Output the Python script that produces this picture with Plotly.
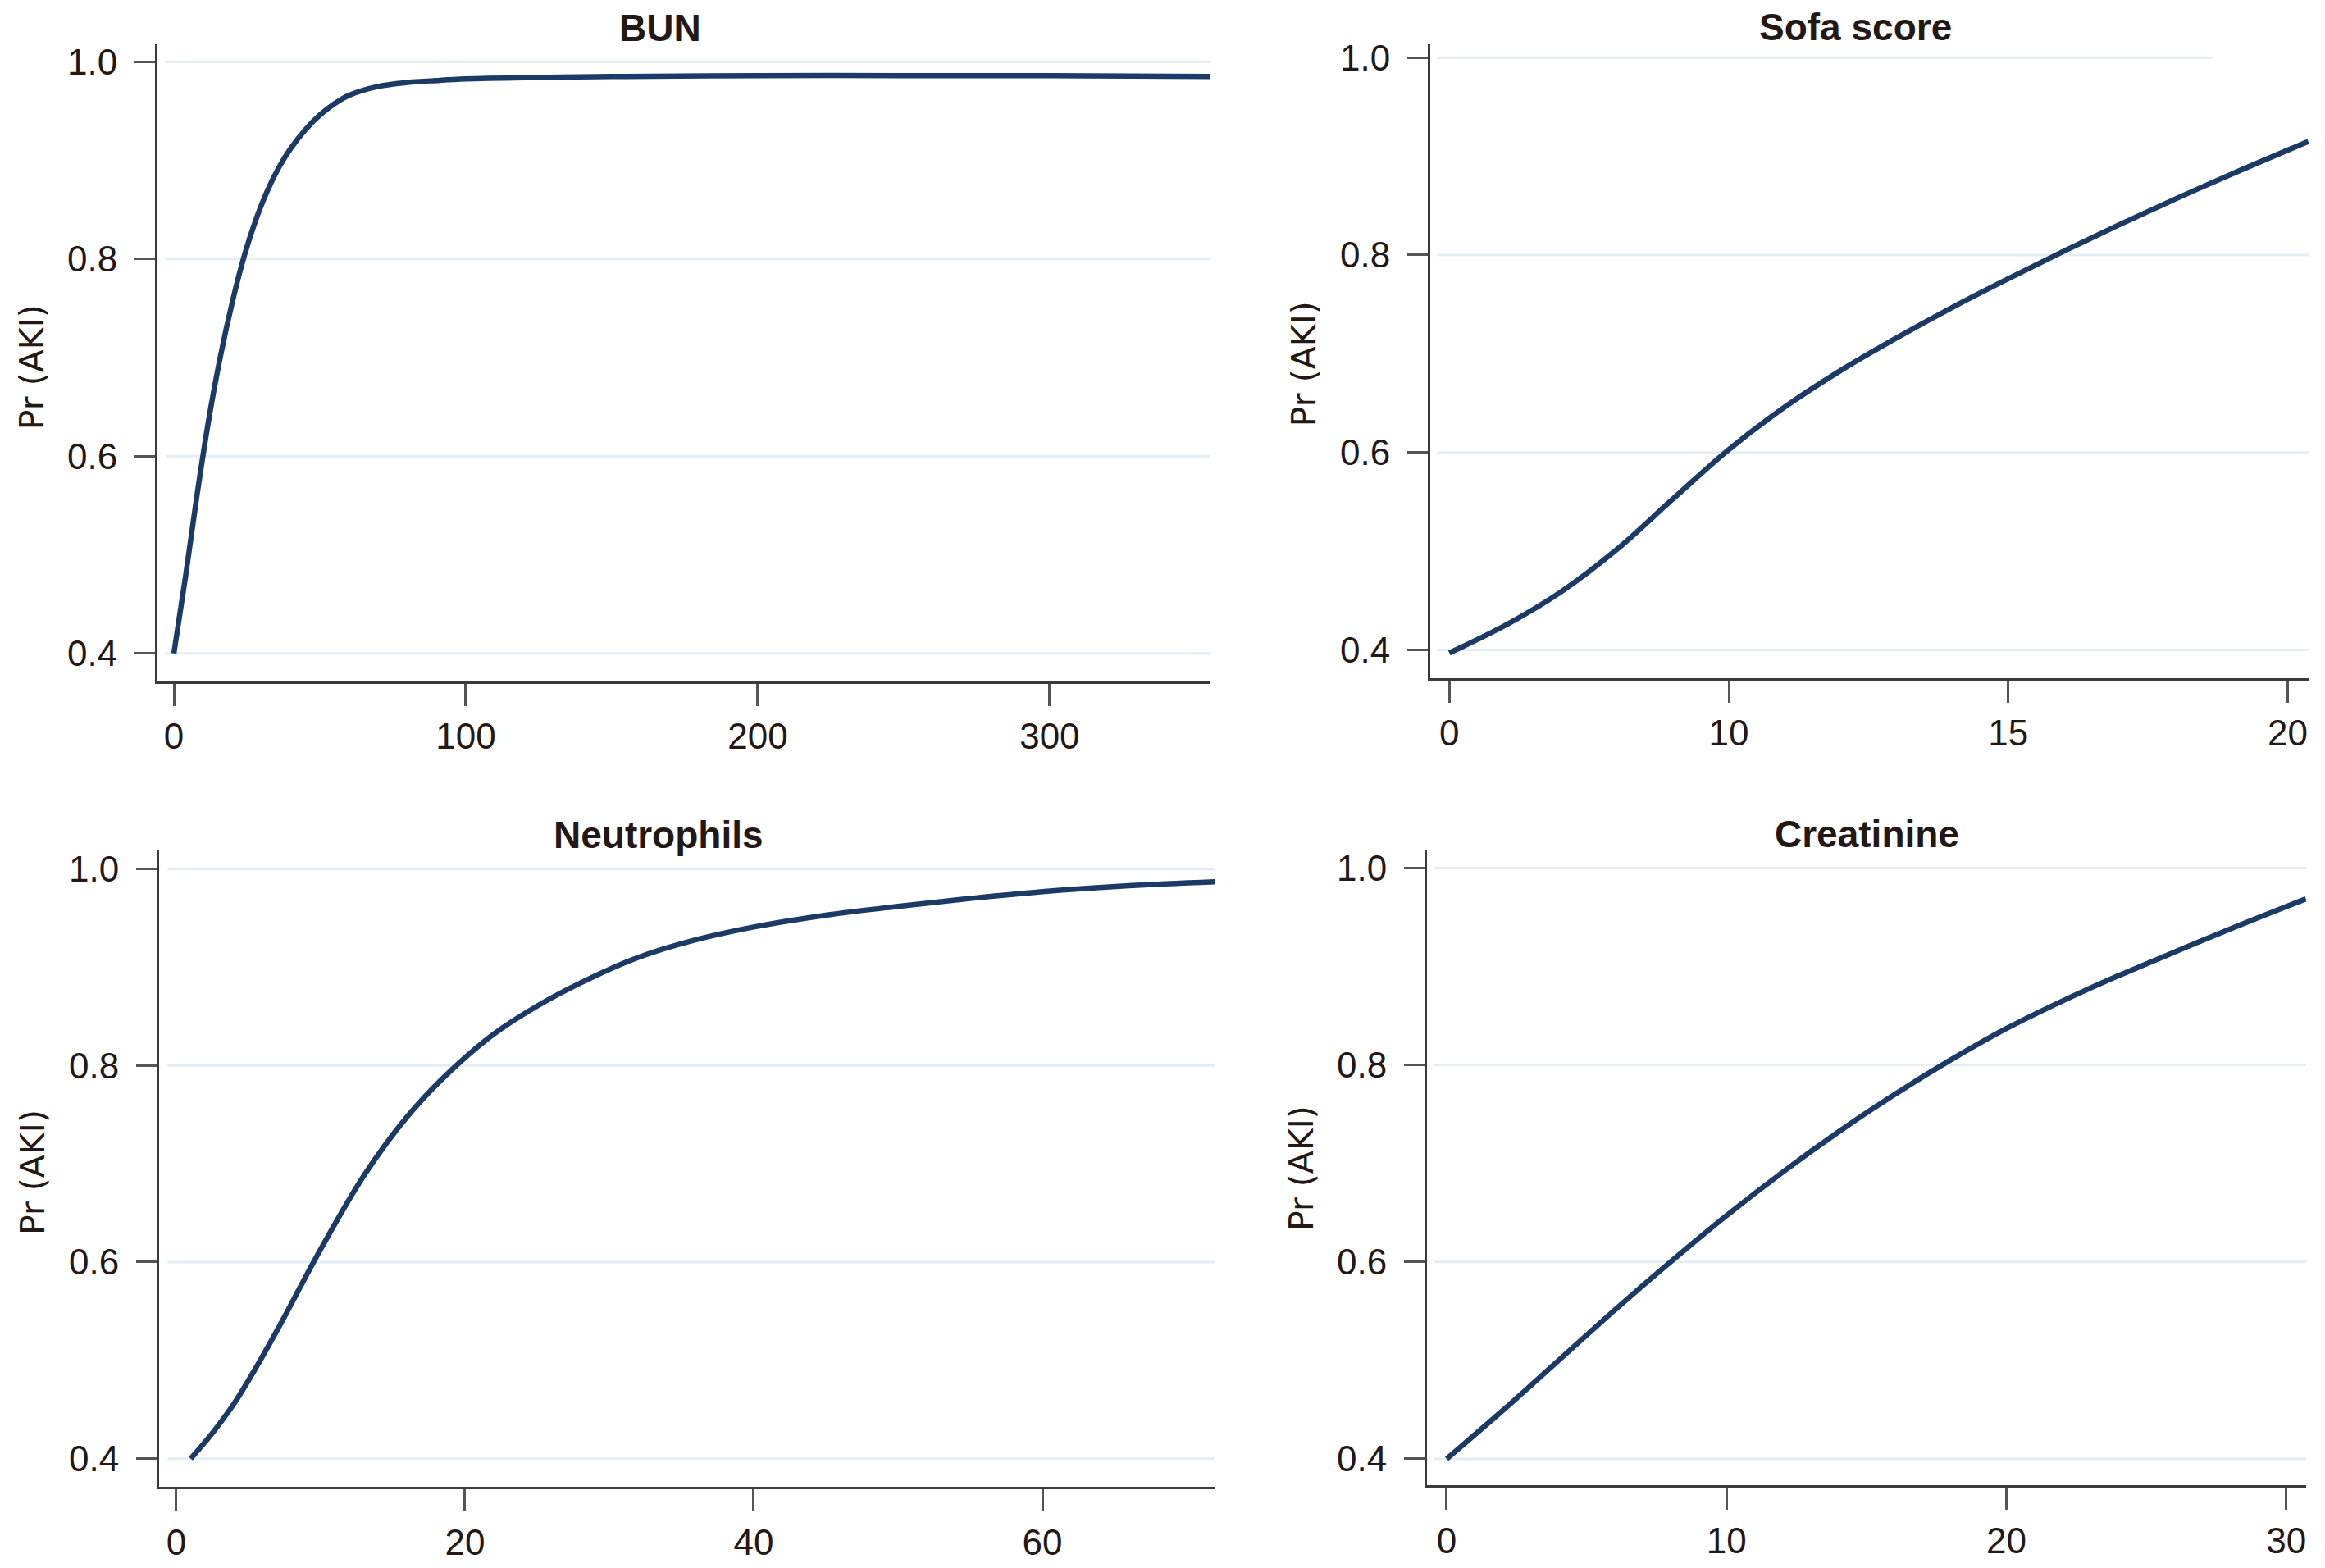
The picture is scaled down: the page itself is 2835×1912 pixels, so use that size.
import plotly.graph_objects as go

# ---------------- data ----------------
bun_x = [0, 4, 8, 12, 16, 20, 24, 28, 32, 36, 40, 45, 50, 55, 60, 70, 80, 90, 100, 125, 150, 200, 250, 300, 355]
bun_y = [0.400, 0.478, 0.562, 0.638, 0.702, 0.756, 0.802, 0.839, 0.869, 0.893, 0.912, 0.931, 0.946,
         0.9575, 0.966, 0.975, 0.979, 0.981, 0.9825, 0.984, 0.985, 0.986, 0.986, 0.986, 0.985]

sofa_x = [5, 6, 7, 8, 9, 10, 11, 12, 13, 14, 15, 16, 17, 18, 19, 20.37]
sofa_y = [0.397, 0.425, 0.459, 0.502, 0.553, 0.603, 0.646, 0.683, 0.716, 0.747, 0.776, 0.804,
          0.831, 0.857, 0.882, 0.915]

neut_x = [1, 2.5, 4, 5.5, 7, 10, 13, 16, 19, 22, 25, 28, 32, 36, 40, 45, 50, 55, 60, 66, 72]
neut_y = [0.400, 0.426, 0.456, 0.492, 0.531, 0.613, 0.688, 0.748, 0.7945, 0.832, 0.8605, 0.884,
          0.910, 0.928, 0.941, 0.953, 0.962, 0.970, 0.977, 0.983, 0.987]

creat_x = [0, 2, 4, 6, 8, 10, 12, 14, 16, 18, 20, 22, 24, 26, 28, 30.7]
creat_y = [0.400, 0.449, 0.500, 0.551, 0.600, 0.647, 0.691, 0.732, 0.770, 0.805, 0.837, 0.865,
           0.8906, 0.9146, 0.9382, 0.9687]

panel_titles = ["BUN", "Sofa score", "Neutrophils", "Creatinine"]
y_title = "Pr (AKI)"
y_tick_vals = [0.4, 0.6, 0.8, 1.0]
y_tick_text = ["0.4", "0.6", "0.8", "1.0"]
bun_tick_vals = [0, 100, 200, 300]
bun_tick_text = ["0", "100", "200", "300"]
sofa_tick_vals = [5, 10, 15, 20]
sofa_tick_text = ["0", "10", "15", "20"]
neut_tick_vals = [0, 20, 40, 60]
neut_tick_text = ["0", "20", "40", "60"]
creat_tick_vals = [0, 10, 20, 30]
creat_tick_text = ["0", "10", "20", "30"]

# ---------------- layout helpers ----------------
W, H = 2835, 1912
LINE = "#1b3b66"
GRID = "#e3eef4"
AXIS = "#3a3a3a"
TXT = "#231815"
TICKFONT = dict(family="Liberation Sans Narrow, Arial Narrow, Liberation Sans, sans-serif", size=44, color=TXT)


def xd(a, b):
    return [a / W, b / W]


def yd(top, bottom):
    return [(H - bottom) / H, (H - top) / H]


panels = [
    # x data, y data, x domain px, y domain px (top,bottom), xrange, yrange, tickvals, ticktext, grid end (domain frac) for 1.0
    (bun_x, bun_y, (192, 1476), (46, 826), [-5.62, 355.1], [0.3719, 1.0179], bun_tick_vals, bun_tick_text, 1.0),
    (sofa_x, sofa_y, (1744, 2816), (46, 822), [4.658, 20.39], [0.3718, 1.0136], sofa_tick_vals, sofa_tick_text, 0.89),
    (neut_x, neut_y, (194, 1481), (1032, 1813), [-1.19, 71.93], [0.371, 1.02], neut_tick_vals, neut_tick_text, 1.0),
    (creat_x, creat_y, (1740, 2812), (1032, 1811), [-0.703, 30.71], [0.3729, 1.019], creat_tick_vals, creat_tick_text, 1.0),
]

fig = go.Figure()
layout = dict(
    width=W, height=H,
    margin=dict(l=0, r=0, t=0, b=0),
    paper_bgcolor="white", plot_bgcolor="white",
    showlegend=False,
)
shapes = []

for i, (xs, ys, xdp, ydp, xr, yr, tv, tt, gend) in enumerate(panels, start=1):
    sfx = "" if i == 1 else str(i)
    fig.add_trace(go.Scatter(
        x=xs, y=ys, mode="lines",
        line=dict(color=LINE, width=6.5, shape="spline", smoothing=1.0),
        xaxis="x" + sfx, yaxis="y" + sfx, hoverinfo="skip",
    ))
    layout["xaxis" + sfx] = dict(
        domain=xd(*xdp), anchor="y" + sfx, range=xr,
        tickmode="array", tickvals=tv, ticktext=tt,
        showgrid=False, zeroline=False,
        showline=True, linecolor=AXIS, linewidth=3,
        ticks="outside", ticklen=27, tickwidth=3, tickcolor="#555555",
        tickfont=TICKFONT, fixedrange=True,
    )
    layout["yaxis" + sfx] = dict(
        domain=yd(*ydp), anchor="x" + sfx, range=yr,
        tickmode="array", tickvals=y_tick_vals, ticktext=y_tick_text,
        showgrid=False, zeroline=False,
        showline=True, linecolor=AXIS, linewidth=3,
        ticks="outside", ticklen=25, tickwidth=3, tickcolor="#555555",
        ticklabelstandoff=12,
        tickfont=TICKFONT, fixedrange=True,
    )
    # horizontal grid lines (drawn at the y tick values)
    for v in y_tick_vals:
        x1 = gend if v == 1.0 else 1.0
        shapes.append(dict(
            type="line", xref="x" + sfx + " domain", yref="y" + sfx,
            x0=0.008, x1=x1, y0=v, y1=v, layer="below",
            line=dict(color=GRID, width=3),
        ))

layout["shapes"] = shapes
fig.update_layout(**layout)

# panel titles
title_pos = [(805, 26), (2262, 25), (803, 1014), (2276, 1013)]
for txt, (px, py) in zip(panel_titles, title_pos):
    fig.add_annotation(
        text="<b>" + txt + "</b>", x=px / W, y=(H - py) / H, xref="paper", yref="paper",
        showarrow=False, xanchor="center", yanchor="middle",
        font=dict(family="Liberation Sans Narrow, Arial Narrow, Liberation Sans, sans-serif", size=46, color=TXT),
    )

# y-axis titles
ytitle_pos = [(39, 442), (1590, 438), (40, 1428), (1587, 1423)]
for px, py in ytitle_pos:
    fig.add_annotation(
        text=y_title, x=px / W, y=(H - py) / H, xref="paper", yref="paper",
        showarrow=False, xanchor="center", yanchor="middle", textangle=-90,
        font=dict(family="DejaVu Sans, Verdana, sans-serif", size=41, color=TXT),
    )

fig.write_html("out.html", config={"displayModeBar": False, "staticPlot": True})

# remove the default page margin so the figure fills the window exactly
with open("out.html", "r", encoding="utf-8") as f:
    html = f.read()
html = html.replace("<head>", "<head><style>html,body{margin:0;padding:0;overflow:hidden;}</style>", 1)
with open("out.html", "w", encoding="utf-8") as f:
    f.write(html)
